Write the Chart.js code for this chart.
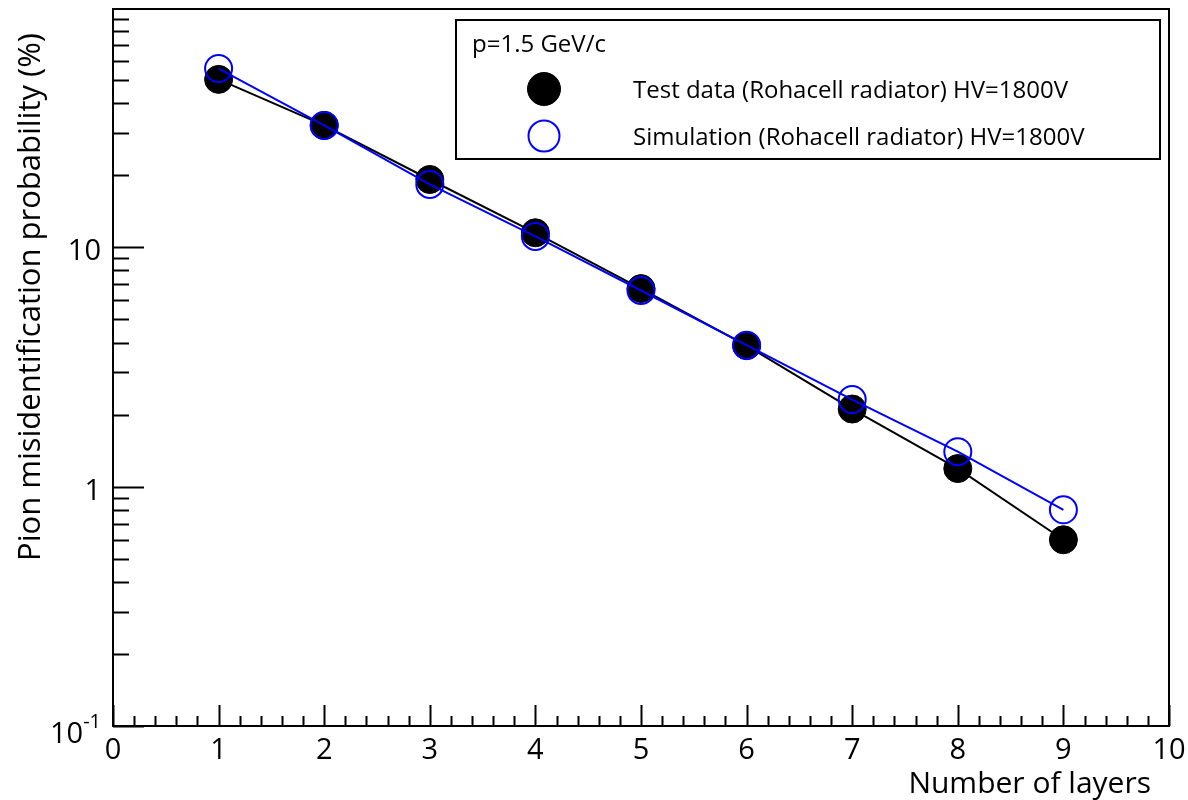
<!DOCTYPE html>
<html>
<head>
<meta charset="utf-8">
<script src="https://cdn.jsdelivr.net/npm/chart.js@4.4.1/dist/chart.umd.min.js"></script>
<style>
  html, body { margin: 0; padding: 0; background: #fff; }
  #wrap { width: 1188px; height: 800px; }
</style>
</head>
<body>
<div id="wrap"><canvas id="chart" width="1188" height="800"></canvas></div>
<script>
// number of layers on the x axis
const layers = [1, 2, 3, 4, 5, 6, 7, 8, 9];
// pion misidentification probability in percent
const testData = [50.3, 32.3, 19.2, 11.5, 6.72, 3.88, 2.11, 1.19, 0.60];
const simData = [55.8, 32.3, 18.3, 11.1, 6.6, 3.9, 2.31, 1.40, 0.80];

// axis ticks
const xMajorTicks = [0, 1, 2, 3, 4, 5, 6, 7, 8, 9, 10];
const xMinorStep = 0.2;
const yDecades = [0.1, 1, 10];
const yLabels = [{ v: 0.1, base: '10', exp: '-1' }, { v: 1, base: '1' }, { v: 10, base: '10' }];

const legendTitle = 'p=1.5 GeV/c';
const FONT = '"Open Sans", "DejaVu Sans", sans-serif';

const rootFrame = {
  id: 'rootFrame',
  afterDraw(chart) {
    const ctx = chart.ctx;
    const xs = chart.scales.x;
    const ys = chart.scales.y;
    const a = chart.chartArea;

    ctx.save();
    ctx.strokeStyle = '#000';
    ctx.fillStyle = '#000';
    ctx.lineWidth = 2;
    ctx.lineCap = 'butt';

    // frame
    ctx.strokeRect(a.left, a.top, a.right - a.left, a.bottom - a.top);

    // x ticks (inward, on the bottom axis)
    ctx.beginPath();
    for (let i = 0; i <= 50; i++) {
      const v = i * xMinorStep;
      const px = Math.round(xs.getPixelForValue(v)) + 0.5;
      const len = (i % 5 === 0) ? 21 : 10;
      ctx.moveTo(px, a.bottom);
      ctx.lineTo(px, a.bottom - len);
    }
    // y ticks (inward, on the left axis)
    yDecades.forEach(d => {
      for (let k = 1; k <= 9; k++) {
        const v = d * k;
        if (v > ys.max) break;
        const py = Math.round(ys.getPixelForValue(v)) + 0.5;
        const len = (k === 1) ? 31 : 16;
        ctx.moveTo(a.left, py);
        ctx.lineTo(a.left + len, py);
      }
    });
    ctx.stroke();

    // x tick labels
    ctx.font = '29px ' + FONT;
    ctx.textAlign = 'center';
    ctx.textBaseline = 'alphabetic';
    xMajorTicks.forEach(v => {
      ctx.fillText(String(v), xs.getPixelForValue(v), a.bottom + 33);
    });

    // y tick labels, 10^-1 with a superscript
    yLabels.forEach(l => {
      const py = ys.getPixelForValue(l.v);
      ctx.textAlign = 'right';
      ctx.font = '29px ' + FONT;
      if (l.exp) {
        ctx.font = '20px ' + FONT;
        const ew = ctx.measureText(l.exp).width;
        ctx.fillText(l.exp, 101, py + 2);
        ctx.font = '29px ' + FONT;
        ctx.fillText(l.base, 101 - ew, py + 17);
      } else {
        ctx.fillText(l.base, 101, py + 13);
      }
    });

    // axis titles
    ctx.font = '30px ' + FONT;
    ctx.textAlign = 'right';
    ctx.fillText('Number of layers', 1151, 793);
    ctx.save();
    ctx.font = '31px ' + FONT;
    ctx.translate(40, 297);
    ctx.rotate(-Math.PI / 2);
    ctx.textAlign = 'center';
    ctx.fillText('Pion misidentification probability (%)', 0, 0);
    ctx.restore();

    // legend box
    const box = { left: 456, top: 20, right: 1160, bottom: 159 };
    ctx.fillStyle = '#fff';
    ctx.fillRect(box.left, box.top, box.right - box.left, box.bottom - box.top);
    ctx.strokeRect(box.left, box.top, box.right - box.left, box.bottom - box.top);
    ctx.fillStyle = '#000';
    ctx.textAlign = 'left';
    ctx.font = '24px ' + FONT;
    ctx.fillText(legendTitle, 472, 52);

    const rows = [89, 136];
    chart.data.datasets.slice().reverse().forEach((ds, i) => {
      const cy = rows[i];
      const filled = ds.pointBackgroundColor !== 'rgba(0,0,0,0)';
      ctx.beginPath();
      ctx.arc(544, cy, filled ? 16.5 : 15.5, 0, Math.PI * 2);
      if (filled) {
        ctx.fillStyle = ds.pointBackgroundColor;
        ctx.fill();
      }
      ctx.lineWidth = ds.pointBorderWidth;
      ctx.strokeStyle = ds.pointBorderColor;
      ctx.stroke();
      ctx.fillStyle = '#000';
      ctx.fillText(ds.label, 633, cy + 9);
    });
    ctx.restore();
  }
};

new Chart(document.getElementById('chart'), {
  type: 'line',
  data: {
    datasets: [
      {
        label: 'Simulation (Rohacell radiator) HV=1800V',
        data: layers.map((x, i) => ({ x, y: simData[i] })),
        borderColor: '#0000ff',
        borderWidth: 2,
        pointRadius: 13.5,
        pointBorderWidth: 2,
        pointBorderColor: '#0000ff',
        pointBackgroundColor: 'rgba(0,0,0,0)',
        tension: 0,
        order: 1
      },
      {
        label: 'Test data (Rohacell radiator) HV=1800V',
        data: layers.map((x, i) => ({ x, y: testData[i] })),
        borderColor: '#000',
        borderWidth: 2,
        pointRadius: 14,
        pointBorderWidth: 1,
        pointBorderColor: '#000',
        pointBackgroundColor: '#000',
        tension: 0,
        order: 2
      }
    ]
  },
  options: {
    responsive: false,
    animation: false,
    layout: { autoPadding: false, padding: { left: 113, right: 19, top: 9, bottom: 74 } },
    plugins: { legend: { display: false }, tooltip: { enabled: false } },
    scales: {
      x: { type: 'linear', min: 0, max: 10, display: false },
      y: { type: 'logarithmic', min: 0.1, max: 99, display: false }
    }
  },
  plugins: [rootFrame]
});
</script>
</body>
</html>
